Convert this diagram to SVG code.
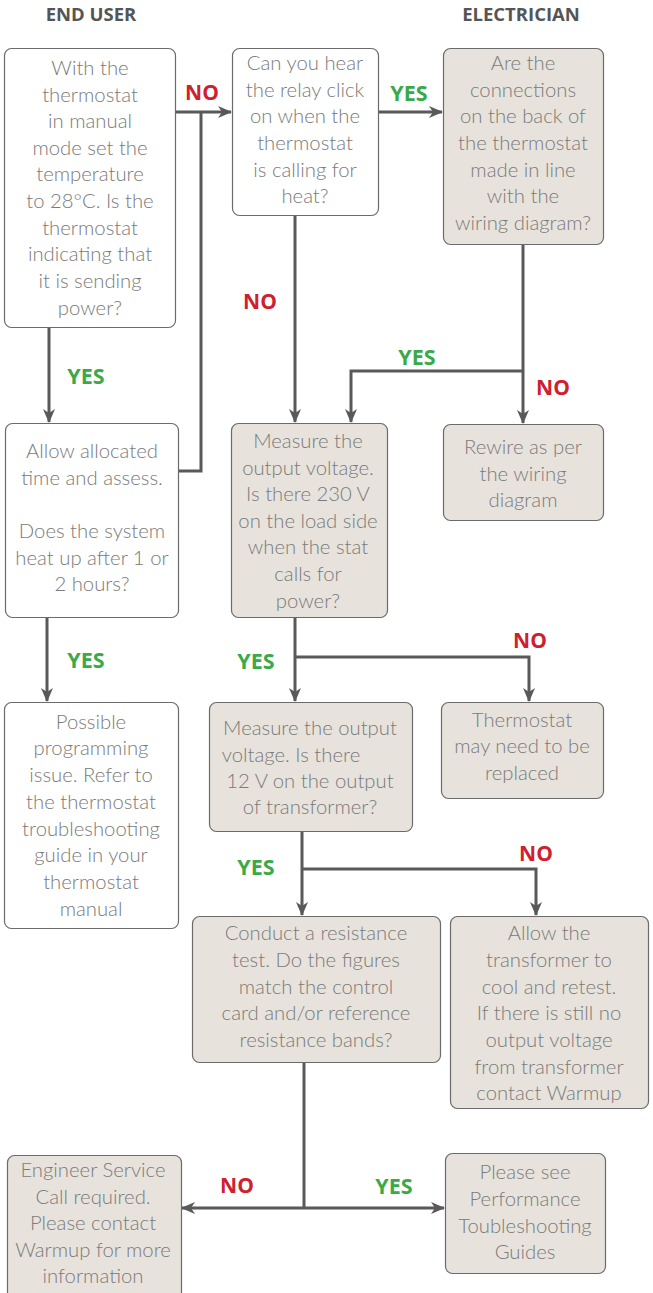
<svg xmlns="http://www.w3.org/2000/svg" width="653" height="1293" viewBox="0 0 653 1293">
<style>
.box{stroke:#6b6b6b;stroke-width:1.2}
.w{fill:#ffffff}
.g{fill:#e7e3dc}
.t{font-family:Lato,"Open Sans","Liberation Sans",sans-serif;font-weight:300;font-size:20.3px;fill:#7a7a7a;text-anchor:middle}
.h{font-family:"Open Sans","Liberation Sans",sans-serif;font-weight:700;font-size:18.5px;fill:#555555;text-anchor:middle}
.no{font-family:"Open Sans","Liberation Sans",sans-serif;font-weight:700;font-size:21px;fill:#d0202e;text-anchor:middle}
.yes{font-family:"Open Sans","Liberation Sans",sans-serif;font-weight:700;font-size:21.5px;fill:#3aaa48;text-anchor:middle}
.c{fill:none;stroke:#595959;stroke-width:3}
</style>
<defs>
<marker id="ah" viewBox="0 0 14 12" refX="13" refY="6" markerWidth="14" markerHeight="12" markerUnits="userSpaceOnUse" orient="auto-start-reverse">
<path d="M0,0 L14,6 L0,12 L4,6 z" fill="#595959"/>
</marker>
</defs>

<g id="headers">
<text class="h" x="91" y="21">END USER</text>
<text class="h" x="521" y="21">ELECTRICIAN</text>
</g>

<g id="connectors">
<path class="c" d="M176,112 H231" marker-end="url(#ah)"/>
<path class="c" d="M179,471 H201 V112"/>
<path class="c" d="M378,112 H442" marker-end="url(#ah)"/>
<path class="c" d="M295,215 V422" marker-end="url(#ah)"/>
<path class="c" d="M523,244 V423" marker-end="url(#ah)"/>
<path class="c" d="M523,371 H351 V422" marker-end="url(#ah)"/>
<path class="c" d="M49,327 V422" marker-end="url(#ah)"/>
<path class="c" d="M47,617 V701" marker-end="url(#ah)"/>
<path class="c" d="M295,617 V701" marker-end="url(#ah)"/>
<path class="c" d="M295,657 H529 V701" marker-end="url(#ah)"/>
<path class="c" d="M302,831 V915" marker-end="url(#ah)"/>
<path class="c" d="M302,869 H536 V915" marker-end="url(#ah)"/>
<path class="c" d="M304,1062 V1208"/>
<path class="c" d="M182,1208 H444" marker-start="url(#ah)" marker-end="url(#ah)"/>
</g>

<g id="labels">
<text class="no" x="202" y="100">NO</text>
<text class="yes" x="409" y="101">YES</text>
<text class="no" x="260" y="309">NO</text>
<text class="yes" x="417" y="365">YES</text>
<text class="no" x="553" y="395">NO</text>
<text class="yes" x="86" y="384">YES</text>
<text class="yes" x="86" y="668">YES</text>
<text class="yes" x="256" y="669">YES</text>
<text class="no" x="530" y="648">NO</text>
<text class="yes" x="256" y="875">YES</text>
<text class="no" x="536" y="861">NO</text>
<text class="no" x="237" y="1193">NO</text>
<text class="yes" x="394" y="1194">YES</text>
</g>

<g id="n1">
<rect class="box w" x="4.5" y="48.5" width="171" height="279" rx="7"/>
<text class="t" x="90" y="75">With the</text>
<text class="t" x="90" y="102">thermostat</text>
<text class="t" x="90" y="128">in manual</text>
<text class="t" x="90" y="155">mode set the</text>
<text class="t" x="90" y="181">temperature</text>
<text class="t" x="90" y="208">to 28°C. Is the</text>
<text class="t" x="90" y="235">thermostat</text>
<text class="t" x="90" y="261">indicating that</text>
<text class="t" x="90" y="288">it is sending</text>
<text class="t" x="90" y="315">power?</text>
</g>

<g id="n2">
<rect class="box w" x="232.5" y="48.5" width="146" height="167" rx="7"/>
<text class="t" x="305" y="70">Can you hear</text>
<text class="t" x="305" y="97">the relay click</text>
<text class="t" x="305" y="123">on when the</text>
<text class="t" x="305" y="150">thermostat</text>
<text class="t" x="305" y="177">is calling for</text>
<text class="t" x="305" y="203">heat?</text>
</g>

<g id="n3">
<rect class="box g" x="443.5" y="48.5" width="160" height="196" rx="7"/>
<text class="t" x="523" y="70">Are the</text>
<text class="t" x="523" y="97">connections</text>
<text class="t" x="523" y="123">on the back of</text>
<text class="t" x="523" y="150">the thermostat</text>
<text class="t" x="523" y="177">made in line</text>
<text class="t" x="523" y="203">with the</text>
<text class="t" x="523" y="230">wiring diagram?</text>
</g>

<g id="n4">
<rect class="box w" x="5.5" y="423.5" width="173" height="194" rx="7"/>
<text class="t" x="92" y="458">Allow allocated</text>
<text class="t" x="92" y="485">time and assess.</text>
<text class="t" x="92" y="538">Does the system</text>
<text class="t" x="92" y="565">heat up after 1 or</text>
<text class="t" x="92" y="591">2 hours?</text>
</g>

<g id="n5">
<rect class="box g" x="231.5" y="423.5" width="156" height="194" rx="7"/>
<text class="t" x="308" y="448">Measure the</text>
<text class="t" x="308" y="475">output voltage.</text>
<text class="t" x="308" y="501">Is there 230 V</text>
<text class="t" x="308" y="528">on the load side</text>
<text class="t" x="308" y="554">when the stat</text>
<text class="t" x="308" y="581">calls for</text>
<text class="t" x="308" y="608">power?</text>
</g>

<g id="n6">
<rect class="box g" x="443.5" y="424.5" width="160" height="96" rx="7"/>
<text class="t" x="523" y="454">Rewire as per</text>
<text class="t" x="523" y="481">the wiring</text>
<text class="t" x="523" y="507">diagram</text>
</g>

<g id="n7">
<rect class="box w" x="4.5" y="702.5" width="174" height="226" rx="7"/>
<text class="t" x="91" y="729">Possible</text>
<text class="t" x="91" y="755">programming</text>
<text class="t" x="91" y="782">issue. Refer to</text>
<text class="t" x="91" y="809">the thermostat</text>
<text class="t" x="91" y="836">troubleshooting</text>
<text class="t" x="91" y="862">guide in your</text>
<text class="t" x="91" y="889">thermostat</text>
<text class="t" x="91" y="916">manual</text>
</g>

<g id="n8">
<rect class="box g" x="209.5" y="702.5" width="203" height="129" rx="7"/>
<text class="t" x="310" y="735">Measure the output</text>
<text class="t" x="291" y="762">voltage. Is there</text>
<text class="t" x="310" y="788">12 V on the output</text>
<text class="t" x="310" y="814">of transformer?</text>
</g>

<g id="n9">
<rect class="box g" x="441.5" y="702.5" width="162" height="96" rx="7"/>
<text class="t" x="522" y="727">Thermostat</text>
<text class="t" x="522" y="753">may need to be</text>
<text class="t" x="522" y="780">replaced</text>
</g>

<g id="n10">
<rect class="box g" x="192.5" y="916.5" width="248" height="146" rx="7"/>
<text class="t" x="316" y="940">Conduct a resistance</text>
<text class="t" x="316" y="967">test. Do the figures</text>
<text class="t" x="316" y="994">match the control</text>
<text class="t" x="316" y="1020">card and/or reference</text>
<text class="t" x="316" y="1047">resistance bands?</text>
</g>

<g id="n11">
<rect class="box g" x="450.5" y="916.5" width="198" height="192" rx="7"/>
<text class="t" x="549" y="940">Allow the</text>
<text class="t" x="549" y="967">transformer to</text>
<text class="t" x="549" y="994">cool and retest.</text>
<text class="t" x="549" y="1020">If there is still no</text>
<text class="t" x="549" y="1047">output voltage</text>
<text class="t" x="549" y="1074">from transformer</text>
<text class="t" x="549" y="1100">contact Warmup</text>
</g>

<g id="n12">
<rect class="box g" x="7.5" y="1155.5" width="174" height="150" rx="7"/>
<text class="t" x="93" y="1177">Engineer Service</text>
<text class="t" x="93" y="1204">Call required.</text>
<text class="t" x="93" y="1230">Please contact</text>
<text class="t" x="93" y="1257">Warmup for more</text>
<text class="t" x="93" y="1283">information</text>
</g>

<g id="n13">
<rect class="box g" x="445.5" y="1153.5" width="160" height="120" rx="7"/>
<text class="t" x="525" y="1179">Please see</text>
<text class="t" x="525" y="1206">Performance</text>
<text class="t" x="525" y="1233">Toubleshooting</text>
<text class="t" x="525" y="1259">Guides</text>
</g>
</svg>
